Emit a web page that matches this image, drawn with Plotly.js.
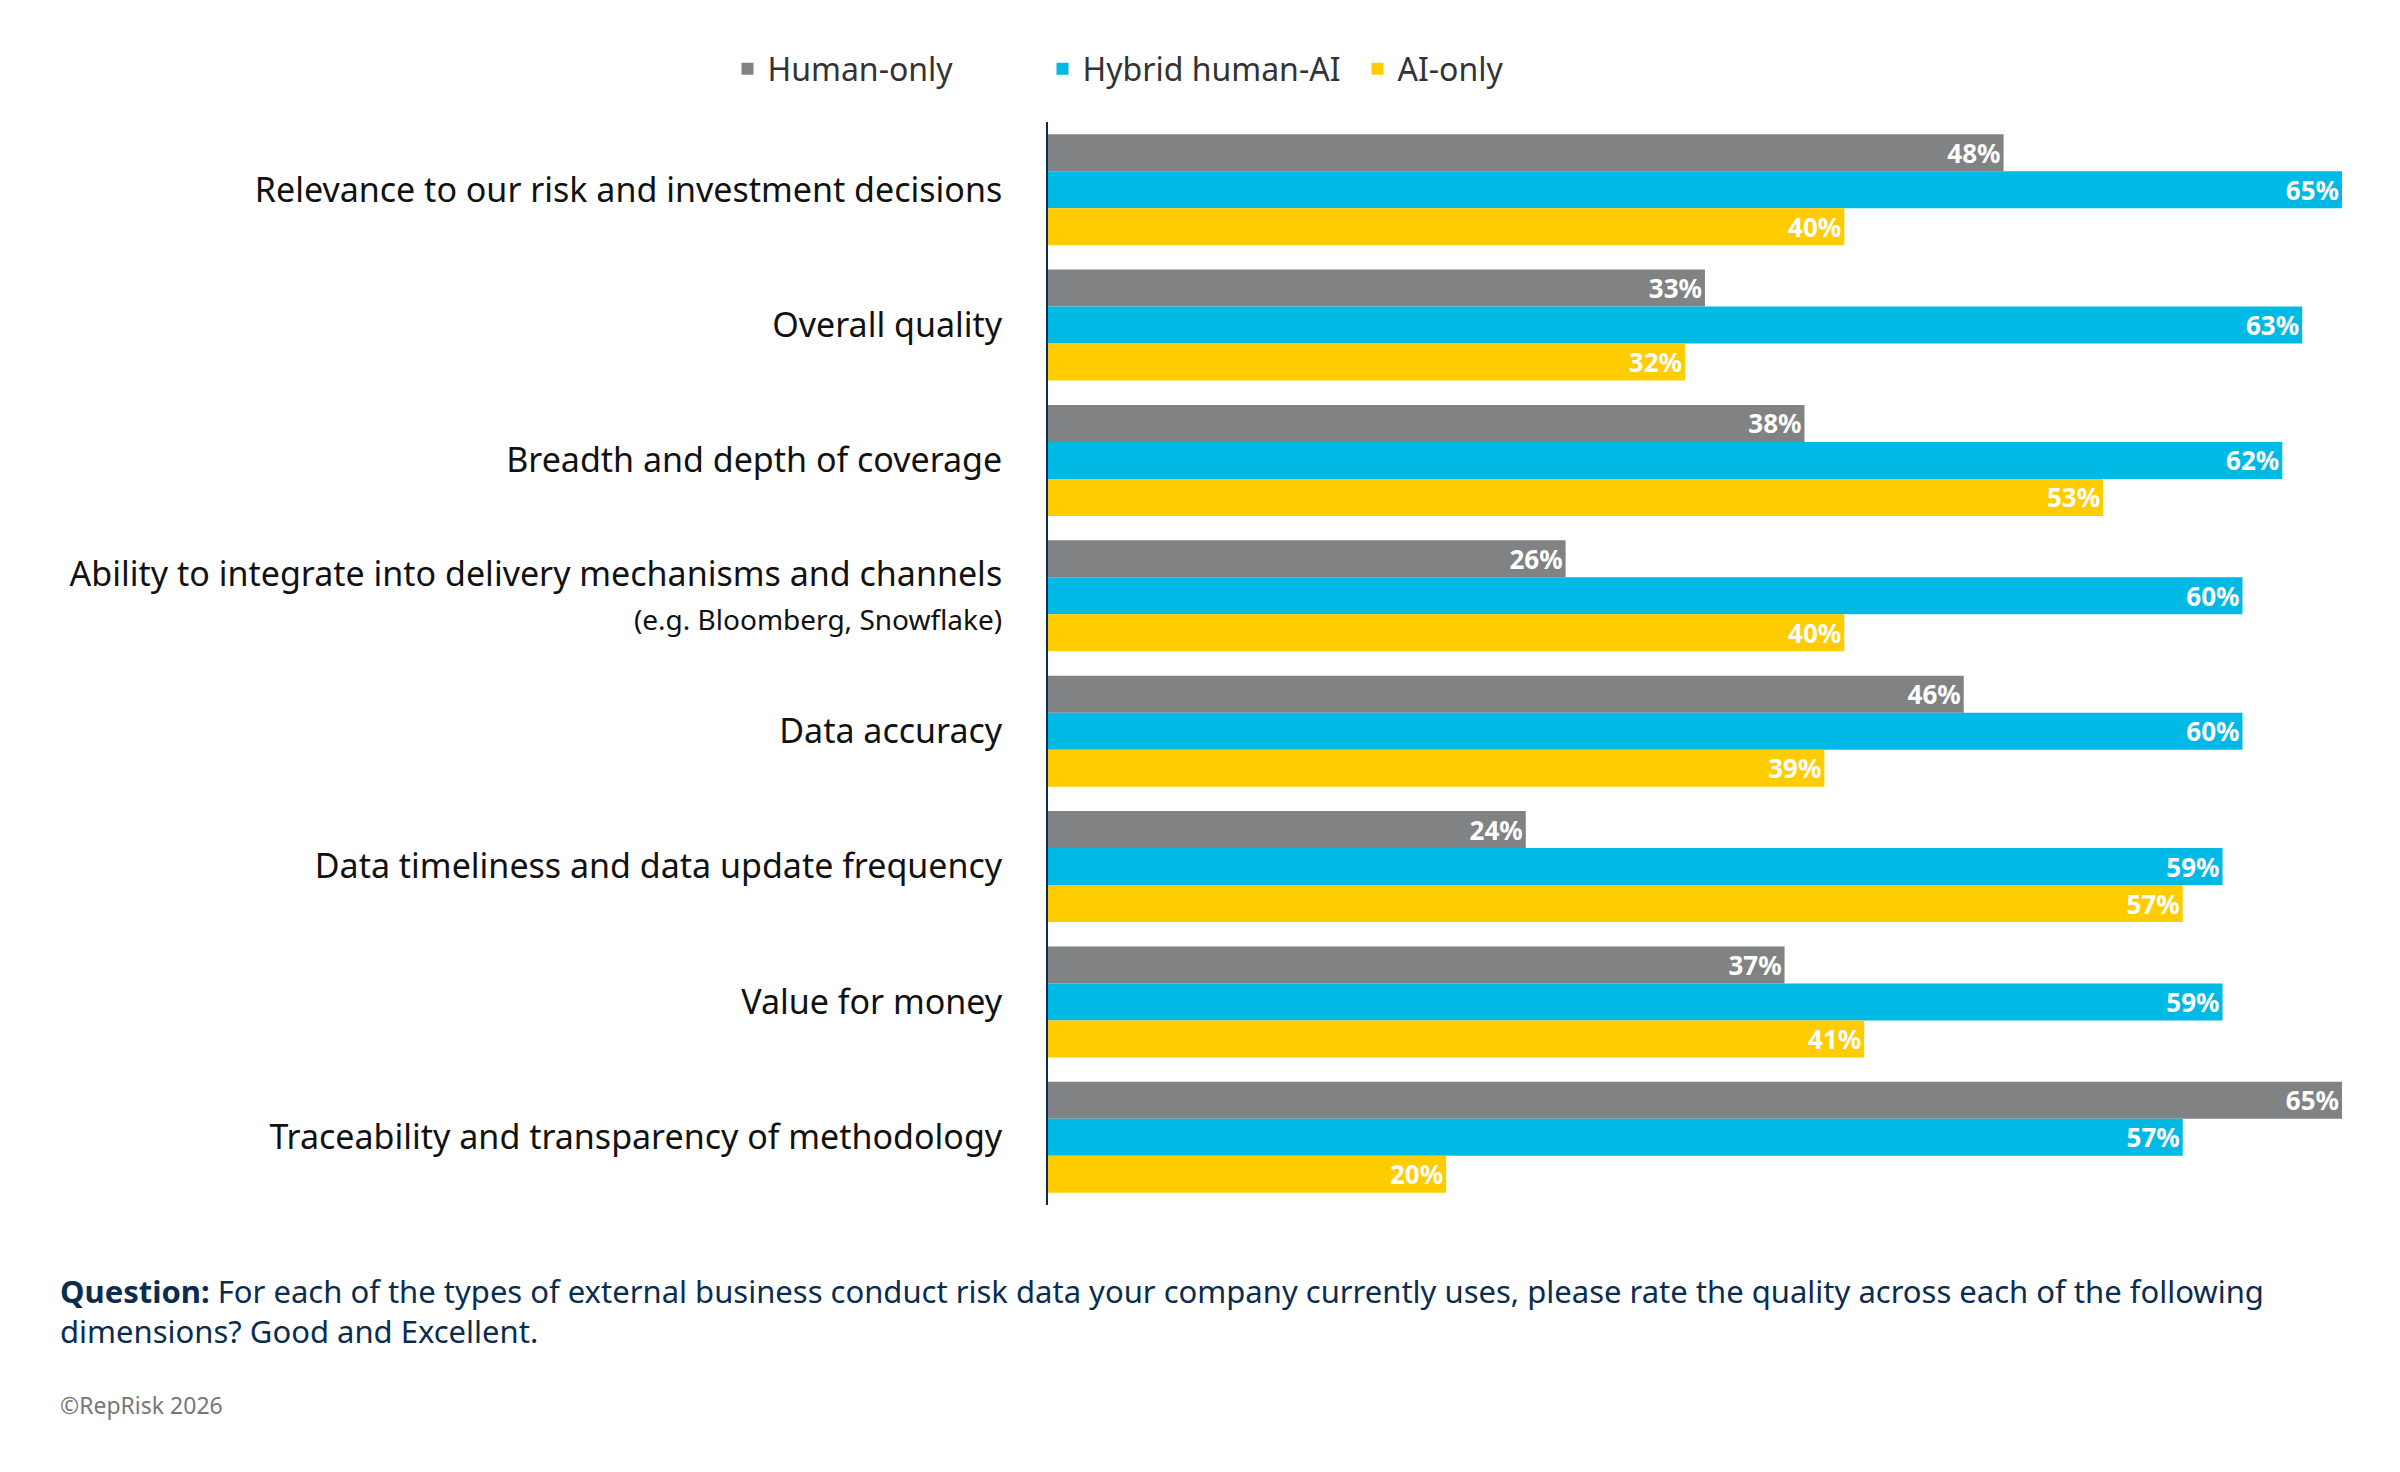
<!DOCTYPE html>
<html><head><meta charset="utf-8">
<script src="https://cdn.plot.ly/plotly-3.0.1.min.js"></script>
<style>body{margin:0;background:#fff}</style></head>
<body><div id="chart" style="width:2400px;height:1472px"></div>
<script>
const categories = [
  "Relevance to our risk and investment decisions",
  "Overall quality",
  "Breadth and depth of coverage",
  "Ability to integrate into delivery mechanisms and channels<br><span style='font-size:28px'>(e.g. Bloomberg, Snowflake)</span>",
  "Data accuracy",
  "Data timeliness and data update frequency",
  "Value for money",
  "Traceability and transparency of methodology"
];
const humanOnly = [48, 33, 38, 26, 46, 24, 37, 65];
const hybrid = [65, 63, 62, 60, 60, 59, 59, 57];
const aiOnly = [40, 32, 53, 40, 39, 57, 41, 20];
const seriesNames = ["Human-only", "Hybrid human-AI", "AI-only"];
const colors = ["#808284", "#00b9e4", "#ffcc00"];
const FONT = "'Liberation Sans Narrow', 'Noto Sans', sans-serif";

const traces = [humanOnly, hybrid, aiOnly].map((v, i) => ({
  type: 'bar', orientation: 'h', name: seriesNames[i],
  y: categories, x: v, marker: {color: colors[i]},
  text: v.map(d => d + '%'), textposition: 'inside', insidetextanchor: 'end',
  textfont: {color: '#fff', size: 26, family: FONT, weight: 'bold'},
  constraintext: 'none', cliponaxis: false, hoverinfo: 'skip'
}));

const layout = {
  barmode: 'group', bargap: 0.18, bargroupgap: 0,
  margin: {l: 1048, r: 58, t: 122, b: 267},
  paper_bgcolor: '#fff', plot_bgcolor: '#fff',
  font: {family: FONT, color: '#111'},
  xaxis: {range: [0, 65], visible: false, fixedrange: true},
  yaxis: {autorange: 'reversed', showline: true, linecolor: '#0a2d4f', linewidth: 2,
    ticks: '', ticklabelstandoff: 37, tickfont: {size: 34, color: '#111', family: FONT}},
  showlegend: true,
  legend: {orientation: 'h', xref: 'container', yref: 'container', x: 0.5, xanchor: 'center',
    y: 1 - 69/1472, yanchor: 'middle', font: {size: 32, color: '#333', family: FONT},
    traceorder: 'normal', entrywidth: 270, entrywidthmode: 'pixels'},
  annotations: [
    {xref: 'paper', yref: 'paper', x: -0.765, y: -0.058, xanchor: 'left', yanchor: 'top', align: 'left',
     showarrow: false, font: {size: 31, color: '#0a2d4f', family: FONT},
     text: "<b>Question:</b> For each of the types of external business conduct risk data your company currently uses, please rate the quality across each of the following<br>dimensions? Good and Excellent."},
    {xref: 'paper', yref: 'paper', x: -0.765, y: -0.185, xanchor: 'left', yanchor: 'middle',
     showarrow: false, font: {size: 23, color: '#777', family: FONT}, text: "©RepRisk 2026"}
  ]
};
Plotly.newPlot('chart', traces, layout, {displayModeBar: false, staticPlot: true});
</script></body></html>
